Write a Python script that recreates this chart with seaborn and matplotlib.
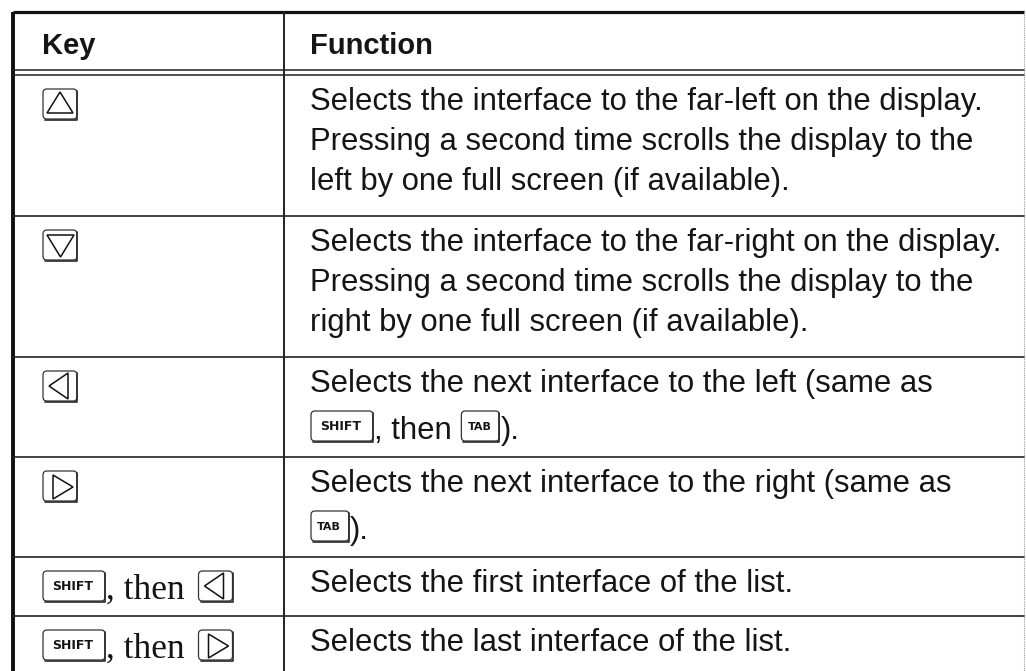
import re
import matplotlib
matplotlib.use("Agg")
import matplotlib.pyplot as plt
import seaborn as sns
from matplotlib.patches import FancyBboxPatch, Polygon

sns.set_theme(style="white")
plt.rcParams['font.family'] = ['Liberation Sans', 'DejaVu Sans']

# ---------------- table content ----------------
header = ["Key", "Function"]
key_cells = [
    "[UP]",
    "[DOWN]",
    "[LEFT]",
    "[RIGHT]",
    "[SHIFT]{, then }[LEFT]",
    "[SHIFT]{, then }[RIGHT]",
]
function_lines = [
    ["Selects the interface to the far-left on the display.",
     "Pressing a second time scrolls the display to the",
     "left by one full screen (if available)."],
    ["Selects the interface to the far-right on the display.",
     "Pressing a second time scrolls the display to the",
     "right by one full screen (if available)."],
    ["Selects the next interface to the left (same as",
     "[SHIFT], then [TAB])."],
    ["Selects the next interface to the right (same as",
     "[TAB])."],
    ["Selects the first interface of the list."],
    ["Selects the last interface of the list."],
]

# ---------------- layout ----------------
W, H = 1026, 671
LEFT, DIV, RIGHT, TOP = 13, 284, 1024, 12
HDR_LINES = (70, 75)
row_edges = [75, 216, 357, 457, 557, 616, 671]
KEY_X, FUNC_X = 42, 310
LINE_SP, FIRST_OFF, KEY_EXTRA = 40, 35, 7
INK = '#151515'
BODY_FS = 22.3
HEAD_FS = 21
SERIF_FS = 25.5

fig = plt.figure(figsize=(W / 100, H / 100), dpi=100)
ax = fig.add_axes([0, 0, 1, 1])
ax.set_xlim(0, W)
ax.set_ylim(H, 0)
ax.axis('off')
renderer = fig.canvas.get_renderer()


def text_width(s, **kw):
    t = ax.text(0, 0, s + '|', **kw)
    w1 = t.get_window_extent(renderer).width
    t.remove()
    t = ax.text(0, 0, '|', **kw)
    w2 = t.get_window_extent(renderer).width
    t.remove()
    return w1 - w2


def draw_key(x, cy, label):
    h = 32
    if label in ('UP', 'DOWN', 'LEFT', 'RIGHT'):
        w = 36
    elif label == 'SHIFT':
        w = 64
    else:
        w = 40
    top = cy - h / 2
    box = FancyBboxPatch((x + 1, top + 1), w - 2, h - 2,
                         boxstyle="round,pad=0,rounding_size=4",
                         fc='white', ec='#333333', lw=0.9, zorder=3)
    ax.add_patch(box)
    # slight shadow edge on right/bottom
    ax.plot([x + 3, x + w - 1, x + w - 1], [top + h, top + h, top + 3],
            color='#2a2a2a', lw=1.2, zorder=3, solid_capstyle='round')
    if label == 'UP':
        pts = [(x + 5, top + h - 7), (x + w - 5, top + h - 7), (x + w / 2, top + 4)]
    elif label == 'DOWN':
        pts = [(x + 5, top + 6), (x + w - 4, top + 6), (x + w / 2 + 0.5, top + h - 4)]
    elif label == 'LEFT':
        pts = [(x + 26, top + 3), (x + 26, top + h - 3), (x + 7, top + h / 2)]
    elif label == 'RIGHT':
        pts = [(x + 11, top + 5), (x + 11, top + h - 3), (x + 31, top + h / 2 + 1)]
    else:
        pts = None
    if pts is not None:
        ax.add_patch(Polygon(pts, closed=True, fill=False, ec='#111', lw=1.1, zorder=4))
    else:
        ax.text(x + w / 2 - 1, cy + 0.5, label, ha='center', va='center',
                fontsize=9 if label == 'SHIFT' else 8, color=INK,
                fontweight='semibold', family=['DejaVu Sans'], zorder=4)
    return w


TOKEN = re.compile(r'(\[[A-Z]+\]|\{[^}]*\})')


def draw_line(x, baseline, line):
    for tok in TOKEN.split(line):
        if not tok:
            continue
        if tok.startswith('['):
            x += draw_key(x, baseline - 13, tok[1:-1])
        elif tok.startswith('{'):
            s = tok[1:-1]
            kw = dict(fontsize=SERIF_FS, family=['Liberation Serif'], color=INK)
            ax.text(x, baseline, s, va='baseline', ha='left', **kw)
            x += text_width(s, **kw) + 4
        else:
            kw = dict(fontsize=BODY_FS, color=INK)
            ax.text(x, baseline, tok, va='baseline', ha='left', **kw)
            x += text_width(tok, **kw)


# ---------------- rules ----------------
ax.plot([LEFT, RIGHT], [TOP, TOP], color='#111', lw=2.3, solid_capstyle='butt')
ax.plot([LEFT, LEFT], [TOP, H], color='#111', lw=2.8, solid_capstyle='butt')
ax.plot([DIV, DIV], [TOP, H], color='#222', lw=1.4, solid_capstyle='butt')
ax.plot([RIGHT, RIGHT], [TOP, H], color='#9a9a9a', lw=0.8, ls=(0, (1, 1)))
for yy in HDR_LINES:
    ax.plot([LEFT, RIGHT], [yy, yy], color='#222', lw=1.1)
for yy in row_edges[1:-1]:
    ax.plot([LEFT, RIGHT], [yy, yy], color='#222', lw=1.2)

# ---------------- header ----------------
ax.text(KEY_X, 54, header[0], fontsize=HEAD_FS, fontweight='bold', color=INK, va='baseline')
ax.text(FUNC_X, 54, header[1], fontsize=HEAD_FS, fontweight='bold', color=INK, va='baseline')

# ---------------- body ----------------
for r, (kcell, flines) in enumerate(zip(key_cells, function_lines)):
    top = row_edges[r]
    draw_line(KEY_X, top + FIRST_OFF + KEY_EXTRA, kcell)
    for i, ln in enumerate(flines):
        extra = KEY_EXTRA if '[' in ln else 0
        draw_line(FUNC_X, top + FIRST_OFF + LINE_SP * i + extra, ln)

fig.savefig('out.png', dpi=100, facecolor='white')
